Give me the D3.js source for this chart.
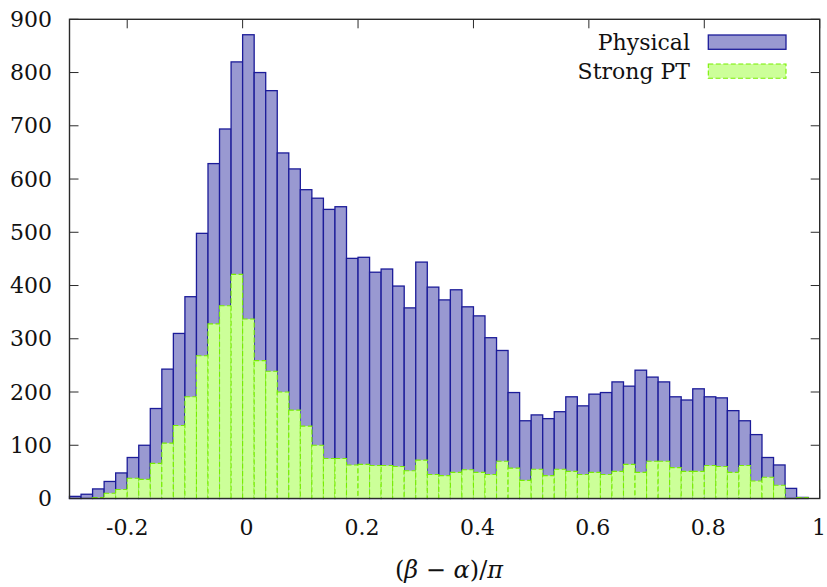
<!DOCTYPE html>
<html>
<head>
<meta charset="utf-8">
<script src="https://cdn.jsdelivr.net/npm/d3@7"></script>
<style>
  html, body { margin: 0; padding: 0; background: #fff; }
  svg { display: block; }
</style>
</head>
<body>
<svg id="chart" width="827" height="587"></svg>
<script>
// Histogram of (beta - alpha)/pi, bins of width 0.02 starting at -0.3
const binWidth = 0.02;
const binStarts = d3.range(65).map(i => -0.3 + i * binWidth);

const physical = [4, 8, 18, 32, 48, 77, 100, 169, 243, 310, 379, 498, 629, 694, 820, 871,
  800, 766, 649, 619, 580, 564, 543, 548, 451, 453, 425, 431, 399, 358, 444, 397,
  373, 392, 360, 343, 302, 278, 199, 146, 157, 150, 163, 191, 174, 196, 199, 219,
  211, 241, 228, 219, 191, 185, 206, 191, 189, 165, 146, 120, 77, 63, 19, 2, 0];

const strongPT = [0, 0, 2, 10, 17, 38, 36, 66, 104, 137, 191, 268, 328, 362, 421, 337,
  259, 239, 200, 166, 136, 100, 75, 75, 63, 64, 62, 62, 60, 52, 72, 45,
  43, 49, 54, 49, 45, 70, 57, 34, 55, 43, 55, 51, 45, 49, 45, 51,
  64, 49, 70, 70, 58, 51, 51, 62, 60, 49, 62, 33, 40, 25, 0, 2, 0];

const xTicks = [-0.2, 0, 0.2, 0.4, 0.6, 0.8, 1];
const xTickLabels = ["-0.2", "0", "0.2", "0.4", "0.6", "0.8", "1"];
const yTicks = [0, 100, 200, 300, 400, 500, 600, 700, 800, 900];

const seriesNames = ["Physical", "Strong PT"];

const W = 827, H = 587;
const margin = { left: 69.5, right: W - 819.7, top: 19.3, bottom: H - 498.5 };
const serif = "'DejaVu Serif', 'Liberation Serif', serif";

const svg = d3.select("#chart");
const x = d3.scaleLinear().domain([-0.3, 1]).range([margin.left, W - margin.right]);
const y = d3.scaleLinear().domain([0, 900]).range([H - margin.bottom, margin.top]);

const frameColor = "#2a2a2a";
const styles = [
  { fill: "#9999d1", stroke: "#1c1c99", dash: null, width: 1.3 },
  { fill: "#ccff99", stroke: "#77ee00", dash: "5,2.5", width: 1.1 }
];

// Tick marks (drawn first so bars sit over the bottom ticks)
const tickG = svg.append("g").attr("stroke", frameColor).attr("stroke-width", 1);
const tickLen = 9;
xTicks.forEach(t => {
  tickG.append("line").attr("x1", x(t)).attr("x2", x(t)).attr("y1", y(0)).attr("y2", y(0) - tickLen);
  tickG.append("line").attr("x1", x(t)).attr("x2", x(t)).attr("y1", y(900)).attr("y2", y(900) + tickLen);
});
yTicks.forEach(t => {
  tickG.append("line").attr("x1", x(-0.3)).attr("x2", x(-0.3) + tickLen).attr("y1", y(t)).attr("y2", y(t));
  tickG.append("line").attr("x1", x(1)).attr("x2", x(1) - tickLen).attr("y1", y(t)).attr("y2", y(t));
});

// Bars
[physical, strongPT].forEach((vals, k) => {
  const st = styles[k];
  svg.append("g")
    .selectAll("rect")
    .data(vals.map((v, i) => ({ x0: binStarts[i], v })).filter(d => d.v > 0))
    .join("rect")
    .attr("x", d => x(d.x0))
    .attr("width", d => x(d.x0 + binWidth) - x(d.x0))
    .attr("y", d => y(d.v))
    .attr("height", d => y(0) - y(d.v))
    .attr("fill", st.fill)
    .attr("stroke", st.stroke)
    .attr("stroke-width", st.width)
    .attr("stroke-dasharray", st.dash);
});

// Frame
svg.append("rect")
  .attr("x", x(-0.3)).attr("y", y(900))
  .attr("width", x(1) - x(-0.3)).attr("height", y(0) - y(900))
  .attr("fill", "none").attr("stroke", frameColor).attr("stroke-width", 1.4);

// Tick labels
const fs = 22;
svg.append("g").selectAll("text").data(yTicks).join("text")
  .attr("font-family", serif).attr("fill", "#111")
  .attr("x", 52).attr("y", d => y(d)).attr("dy", "0.35em")
  .attr("text-anchor", "end").attr("font-size", fs).text(d => d);

const last = xTicks.length - 1;
svg.append("g").selectAll("text").data(xTicks).join("text")
  .attr("font-family", serif).attr("fill", "#111")
  .attr("x", (d, i) => i === last ? W - 1 : x(d) + (i === 0 ? 0 : 4)).attr("y", 535)
  .attr("text-anchor", (d, i) => i === last ? "end" : "middle")
  .attr("font-size", fs).text((d, i) => xTickLabels[i]);

// Axis title: (β − α)/π
const title = svg.append("text").attr("x", 449).attr("y", 578)
  .attr("font-family", serif).attr("fill", "#111")
  .attr("text-anchor", "middle").attr("font-size", 24);
title.append("tspan").text("(");
title.append("tspan").attr("font-style", "italic").text("β");
title.append("tspan").text(" − ");
title.append("tspan").attr("font-style", "italic").text("α");
title.append("tspan").text(")/");
title.append("tspan").attr("font-style", "italic").text("π");

// Legend
const legend = svg.append("g");
seriesNames.forEach((name, k) => {
  const st = styles[k];
  const cy = 42 + k * 29;
  legend.append("text").attr("x", 690).attr("y", cy).attr("dy", "0.35em")
    .attr("font-family", serif).attr("fill", "#111")
    .attr("text-anchor", "end").attr("font-size", fs).text(name);
  legend.append("rect").attr("x", 708.3).attr("y", cy - 7).attr("width", 77.7).attr("height", 14.3)
    .attr("fill", st.fill).attr("stroke", st.stroke).attr("stroke-width", st.width)
    .attr("stroke-dasharray", st.dash);
});
</script>
</body>
</html>
